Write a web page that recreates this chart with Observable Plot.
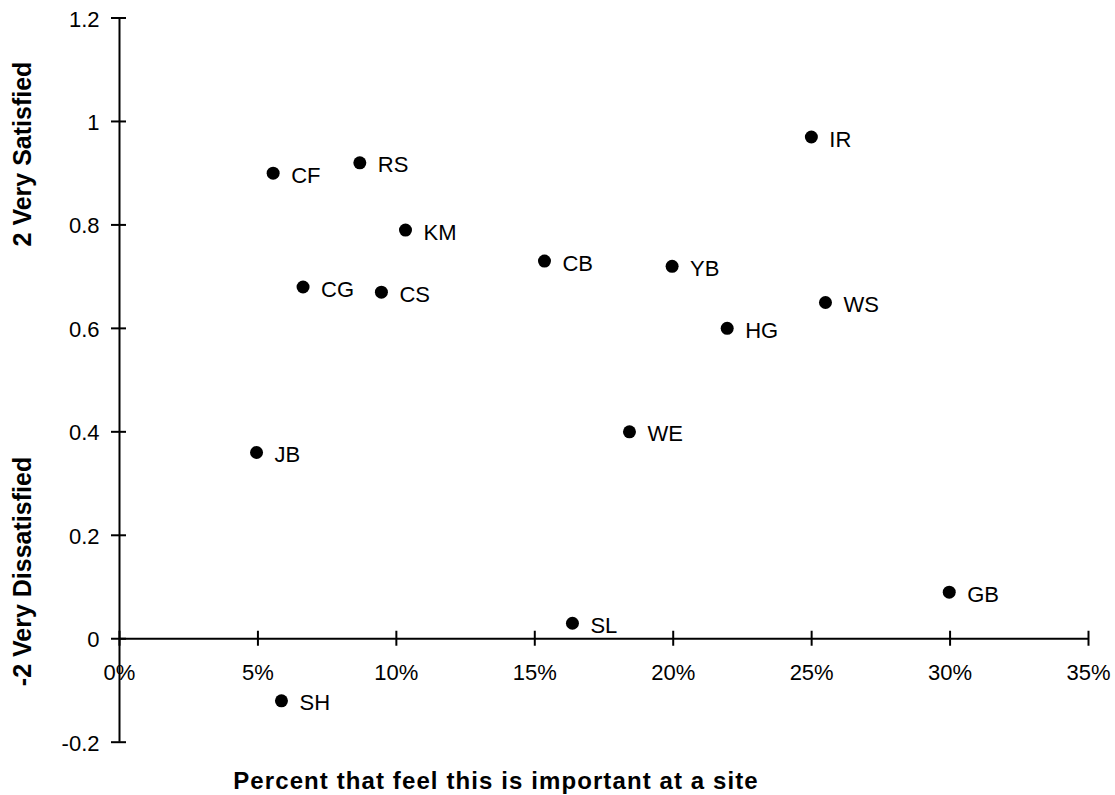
<!DOCTYPE html>
<html>
<head>
<meta charset="utf-8">
<script src="https://cdn.jsdelivr.net/npm/d3@7"></script>
<script src="https://cdn.jsdelivr.net/npm/@observablehq/plot@0.6"></script>
<style>
  html, body { margin: 0; padding: 0; background: #fff; }
  #chart svg { display: block; }
</style>
</head>
<body>
<div id="chart"></div>
<script>
// ---- Data ----
const sites = ["CF", "RS", "KM", "CG", "CS", "CB", "YB", "IR", "WS", "HG", "JB", "WE", "GB", "SL", "SH"];
const importance = [0.0555, 0.0868, 0.1033, 0.0663, 0.0946, 0.1535, 0.1996, 0.2499, 0.2550, 0.2195, 0.0495, 0.1842, 0.2997, 0.1636, 0.0585];
const satisfaction = [0.90, 0.92, 0.79, 0.68, 0.67, 0.73, 0.72, 0.97, 0.65, 0.60, 0.36, 0.40, 0.09, 0.03, -0.12];

const xTicks = [0, 0.05, 0.10, 0.15, 0.20, 0.25, 0.30, 0.35];
const xTickLabels = ["0%", "5%", "10%", "15%", "20%", "25%", "30%", "35%"];
const yTicks = [1.2, 1.0, 0.8, 0.6, 0.4, 0.2, 0, -0.2];
const yTickLabels = ["1.2", "1", "0.8", "0.6", "0.4", "0.2", "0", "-0.2"];

const xTitle = "Percent that feel this is important at a site";
const yTitleTop = "2 Very Satisfied";
const yTitleBottom = "-2 Very Dissatisfied";

const points = sites.map((s, i) => ({site: s, x: importance[i], y: satisfaction[i]}));

const FONT = "'Liberation Sans', Arial, Helvetica, sans-serif";

const chart = Plot.plot({
  width: 1115,
  height: 795,
  marginLeft: 119,
  marginRight: 27,
  marginTop: 17.5,
  marginBottom: 53.3,
  style: {fontFamily: FONT, background: "#fff", color: "#000", overflow: "visible"},
  x: {domain: [0, 0.35], axis: null},
  y: {domain: [-0.2, 1.2], axis: null},
  marks: [
    // axes lines
    Plot.ruleX([0], {y1: -0.2, y2: 1.2, stroke: "#000", strokeWidth: 2}),
    Plot.ruleY([0], {x1: 0, x2: 0.35, stroke: "#000", strokeWidth: 2}),
    // y ticks (crossing)
    Plot.ruleY(yTicks, {y: d => d, x1: 0, x2: 0, insetLeft: -8, insetRight: -7, stroke: "#000", strokeWidth: 2}),
    // x ticks (crossing)
    Plot.ruleX(xTicks, {x: d => d, y1: 0, y2: 0, insetTop: -7.5, insetBottom: -7.5, stroke: "#000", strokeWidth: 2}),
    // tick labels
    Plot.text(yTicks, {x: 0, y: d => d, text: (d, i) => yTickLabels[i], textAnchor: "end", dx: -20, dy: 1.5, fontSize: 22, fill: "#000"}),
    Plot.text(xTicks, {x: d => d, y: 0, text: (d, i) => xTickLabels[i], dy: 34.5, fontSize: 22, fill: "#000"}),
    // points
    Plot.dot(points, {x: "x", y: "y", r: 6.5, fill: "#000", stroke: "none"}),
    Plot.text(points, {x: "x", y: "y", text: "site", textAnchor: "start", dx: 18, dy: 2.5, fontSize: 22, fill: "#000"}),
    // axis titles
    Plot.text([yTitleTop], {frameAnchor: "left", y: 0.937, dx: -97, rotate: -90, textAnchor: "middle", lineAnchor: "middle", fontSize: 25, fontWeight: "bold", fill: "#000"}),
    Plot.text([yTitleBottom], {frameAnchor: "left", y: 0.13, dx: -97, rotate: -90, textAnchor: "middle", lineAnchor: "middle", fontSize: 25, fontWeight: "bold", fill: "#000"}),
    Plot.text([xTitle], {frameAnchor: "bottom-left", dx: 376.5, dy: 39, textAnchor: "middle", lineAnchor: "middle", fontSize: 24, fontWeight: "bold", fill: "#000"})
  ]
});

// widen the x title slightly to match the reference's letter spacing
chart.querySelectorAll("text").forEach(t => {
  if (t.textContent === xTitle) t.setAttribute("letter-spacing", "1.1");
});

document.getElementById("chart").appendChild(chart);
</script>
</body>
</html>
